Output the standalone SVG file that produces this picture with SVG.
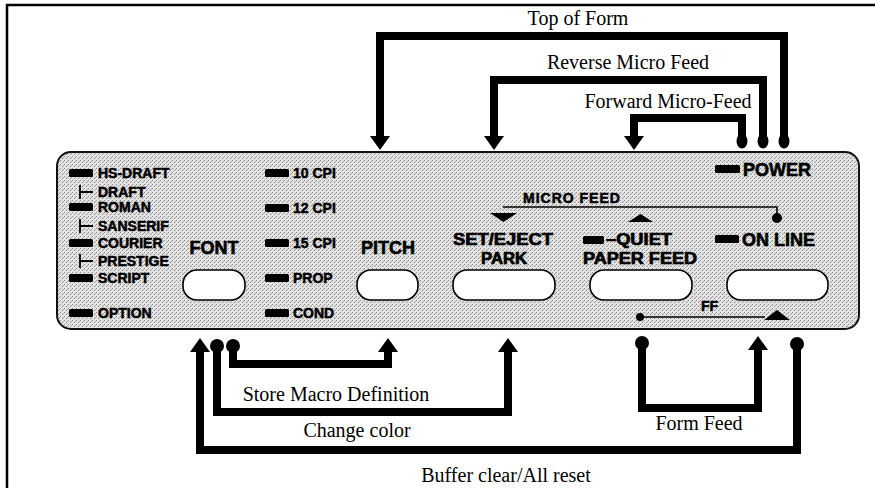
<svg xmlns="http://www.w3.org/2000/svg" width="875" height="488" viewBox="0 0 875 488">
<style>
.frame{stroke:#000;stroke-width:2.5;fill:none}
.panel{fill:url(#ht);stroke:#111;stroke-width:2}
.btn{fill:#fff;stroke:#000;stroke-width:1.6}
.led{fill:#000}
.sm{font-family:"Liberation Sans",Arial,sans-serif;font-weight:bold;font-size:14px;fill:#000;stroke:#000;stroke-width:0.5}
.big{font-family:"Liberation Sans",Arial,sans-serif;font-weight:bold;font-size:18px;fill:#000;stroke:#000;stroke-width:0.6}
.big2{font-family:"Liberation Sans",Arial,sans-serif;font-weight:bold;font-size:16px;fill:#000;stroke:#000;stroke-width:0.7}
.lbl{font-family:"Liberation Serif","Times New Roman",serif;font-size:20px;fill:#000;text-anchor:middle}
.conn{fill:none;stroke:#000;stroke-width:8;stroke-linejoin:miter}
.thin{fill:none;stroke:#000;stroke-width:1.6}
.tick{fill:none;stroke:#000;stroke-width:1.8}
</style>
<defs>
<pattern id="ht" width="4" height="4" patternUnits="userSpaceOnUse">
<rect width="4" height="4" fill="#e2e2e2"/>
<rect x="0" y="0" width="1" height="1" fill="#8a8a8a"/>
<rect x="2" y="2" width="1" height="1" fill="#8a8a8a"/>
<rect x="3" y="1" width="1" height="1" fill="#a8a8a8"/>
</pattern>
<marker id="arr" markerUnits="userSpaceOnUse" viewBox="0 -10 14 20" refX="0" refY="0" markerWidth="14" markerHeight="20" orient="auto">
<path d="M0,-10 L14,0 L0,10 Z" fill="#000"/>
</marker>
<marker id="dotT" markerUnits="userSpaceOnUse" viewBox="-8 -6 16 12" refX="0" refY="0" markerWidth="16" markerHeight="12" orient="auto">
<ellipse cx="0" cy="0" rx="7.5" ry="5.5" fill="#000"/>
</marker>
<marker id="dotB" markerUnits="userSpaceOnUse" viewBox="-8 -8 16 16" refX="0" refY="0" markerWidth="16" markerHeight="16" orient="auto">
<circle cx="0" cy="0" r="7" fill="#000"/>
</marker>
</defs>

<rect width="875" height="488" fill="#fff"/>
<path class="frame" d="M7,488 V5 H875"/>

<g id="panel">
<rect class="panel" x="57" y="152" width="802" height="177" rx="14"/>
</g>

<g id="font-leds">
<rect class="led" x="69" y="169" width="24" height="8" rx="1.5"/>
<text class="sm" x="98" y="178">HS-DRAFT</text>
<path class="tick" d="M80,185 V199 M80,192 H93"/>
<text class="sm" x="98" y="197">DRAFT</text>
<rect class="led" x="69" y="203" width="24" height="8" rx="1.5"/>
<text class="sm" x="98" y="212">ROMAN</text>
<path class="tick" d="M80,219 V233 M80,226 H93"/>
<text class="sm" x="98" y="231">SANSERIF</text>
<rect class="led" x="69" y="239" width="24" height="8" rx="1.5"/>
<text class="sm" x="98" y="248">COURIER</text>
<path class="tick" d="M80,254 V268 M80,261 H93"/>
<text class="sm" x="98" y="266">PRESTIGE</text>
<rect class="led" x="69" y="274" width="24" height="8" rx="1.5"/>
<text class="sm" x="98" y="283">SCRIPT</text>
<rect class="led" x="69" y="309" width="24" height="8" rx="1.5"/>
<text class="sm" x="98" y="318">OPTION</text>
</g>

<g id="font-button">
<text class="big" x="214" y="254" text-anchor="middle">FONT</text>
<rect class="btn" x="183" y="270" width="62" height="30" rx="14"/>
</g>

<g id="pitch-leds">
<rect class="led" x="265" y="169" width="24" height="8" rx="1.5"/>
<text class="sm" x="293" y="178">10 CPI</text>
<rect class="led" x="265" y="204" width="24" height="8" rx="1.5"/>
<text class="sm" x="293" y="213">12 CPI</text>
<rect class="led" x="265" y="239" width="24" height="8" rx="1.5"/>
<text class="sm" x="293" y="248">15 CPI</text>
<rect class="led" x="265" y="274" width="24" height="8" rx="1.5"/>
<text class="sm" x="293" y="283">PROP</text>
<rect class="led" x="265" y="309" width="24" height="8" rx="1.5"/>
<text class="sm" x="293" y="318">COND</text>
</g>

<g id="pitch-button">
<text class="big" x="388" y="254" text-anchor="middle">PITCH</text>
<rect class="btn" x="357" y="270" width="61" height="30" rx="14"/>
</g>

<g id="set-eject-button">
<text class="big2" x="503" y="245" text-anchor="middle" textLength="100" lengthAdjust="spacingAndGlyphs">SET/EJECT</text>
<text class="big2" x="504" y="264" text-anchor="middle" textLength="46" lengthAdjust="spacingAndGlyphs">PARK</text>
<rect class="btn" x="453" y="270" width="102" height="30" rx="14"/>
</g>

<g id="micro-feed">
<text class="sm" x="523" y="203" letter-spacing="1">MICRO FEED</text>
<path class="thin" d="M503,207 H777 V214"/>
<circle cx="777" cy="218" r="5" fill="#000"/>
<polygon points="490,213 517,213 503.5,222" fill="#000"/>
<polygon points="628,222 653,222 640.5,214" fill="#000"/>
</g>

<g id="paper-feed-button">
<rect class="led" x="583" y="236" width="21" height="8" rx="1.5"/>
<text class="big2" x="606" y="245" textLength="66" lengthAdjust="spacingAndGlyphs">–QUIET</text>
<text class="big2" x="640" y="264" text-anchor="middle" textLength="114" lengthAdjust="spacingAndGlyphs">PAPER FEED</text>
<rect class="btn" x="590" y="270" width="102" height="30" rx="14"/>
</g>

<g id="power">
<rect class="led" x="715" y="165" width="25" height="8" rx="1.5"/>
<text class="big" x="743" y="176">POWER</text>
</g>

<g id="online-button">
<rect class="led" x="715" y="235" width="24" height="8" rx="1.5"/>
<text class="big" x="742" y="246">ON LINE</text>
<rect class="btn" x="727" y="270" width="101" height="30" rx="14"/>
</g>

<g id="ff">
<text class="sm" x="701" y="311" font-size="11">FF</text>
<path class="thin" d="M640,317 H765"/>
<circle cx="640" cy="317" r="4" fill="#000"/>
<polygon points="764,320 790,320 777,310" fill="#000"/>
</g>

<g id="connectors">
<path class="conn" d="M784,141 V36 H380 V136" marker-start="url(#dotT)" marker-end="url(#arr)"/>
<path class="conn" d="M763,141 V80 H494 V136" marker-start="url(#dotT)" marker-end="url(#arr)"/>
<path class="conn" d="M742,141 V118 H634 V136" marker-start="url(#dotT)" marker-end="url(#arr)"/>
<path class="conn" d="M797,344 V450 H200 V352" marker-start="url(#dotB)" marker-end="url(#arr)"/>
<path class="conn" d="M217,346 V412 H508 V352" marker-start="url(#dotB)" marker-end="url(#arr)"/>
<path class="conn" d="M233,346 V364 H388 V352" marker-start="url(#dotB)" marker-end="url(#arr)"/>
<path class="conn" d="M642,343 V408 H758 V350" marker-start="url(#dotB)" marker-end="url(#arr)"/>
</g>

<g id="labels">
<text class="lbl" x="578" y="25">Top of Form</text>
<text class="lbl" x="628" y="69">Reverse Micro Feed</text>
<text class="lbl" x="668" y="108">Forward Micro-Feed</text>
<text class="lbl" x="336" y="401">Store Macro Definition</text>
<text class="lbl" x="357" y="437">Change color</text>
<text class="lbl" x="699" y="430">Form Feed</text>
<text class="lbl" x="506" y="482">Buffer clear/All reset</text>
</g>
</svg>
